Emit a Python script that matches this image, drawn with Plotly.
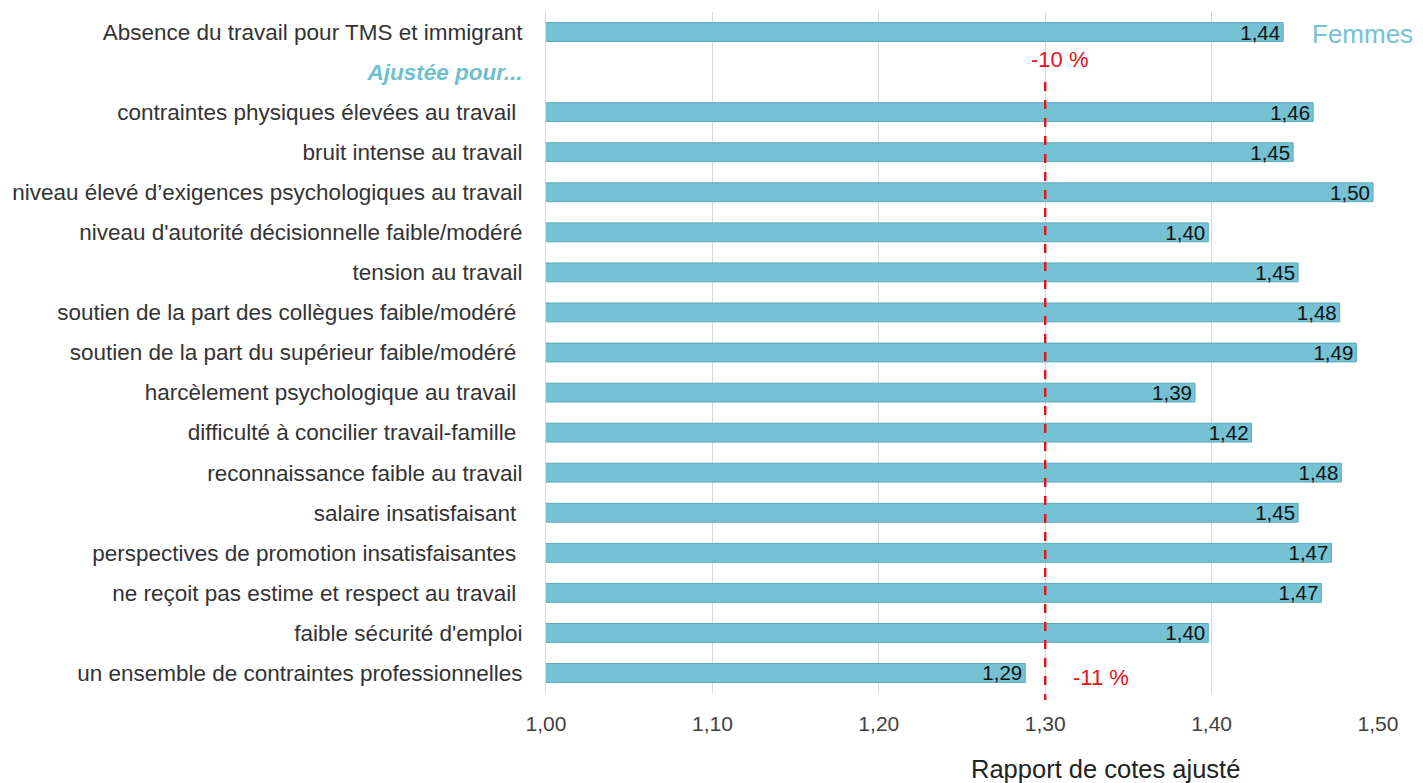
import plotly.graph_objects as go

categories = [
    "Absence du travail pour TMS et immigrant",
    "<i><b><span style='color:#6fbfd1'>Ajustée pour...</span></b></i>",
    "contraintes physiques élevées au travail\u00a0",
    "bruit intense au travail",
    "niveau élevé d’exigences psychologiques au travail",
    "niveau d'autorité décisionnelle faible/modéré",
    "tension au travail",
    "soutien de la part des collègues faible/modéré\u00a0",
    "soutien de la part du supérieur faible/modéré\u00a0",
    "harcèlement psychologique au travail\u00a0",
    "difficulté à concilier travail-famille\u00a0",
    "reconnaissance faible au travail",
    "salaire insatisfaisant\u00a0",
    "perspectives de promotion insatisfaisantes\u00a0",
    "ne reçoit pas estime et respect au travail\u00a0",
    "faible sécurité d'emploi",
    "un ensemble de contraintes professionnelles",
]
values = [1.443, None, 1.461, 1.449, 1.497, 1.398, 1.452, 1.477, 1.487,
          1.390, 1.424, 1.478, 1.452, 1.472, 1.466, 1.398, 1.288]
x_ticks = [1.0, 1.1, 1.2, 1.3, 1.4, 1.5]
ref_line = 1.30

ids = list(range(len(categories)))
FONT = "Liberation Sans, Arial, sans-serif"

# page body has an 8px margin: build the figure smaller and shift targets
OFF = 8
W, H = 1423 - OFF, 783 - OFF
ml, mt = 546 - OFF, 12 - OFF
mr = W - (1378 - OFF)
mb = H - (693 - OFF)
pw, ph = W - ml - mr, H - mt - mb


def px(x):
    return (x - OFF - ml) / pw


def py(y):
    return (H - mb - (y - OFF)) / ph


fig = go.Figure()
fig.add_trace(go.Bar(
    y=ids, x=values, orientation="h",
    marker=dict(color="#74c2d3", line=dict(color="#5aaabb", width=1)),
    width=0.47,
    texttemplate="%{x:.2f}", textposition="inside", insidetextanchor="end",
    textangle=0, constraintext="none",
    textfont=dict(color="#111111", size=20.5, family=FONT),
    hoverinfo="skip",
))

fig.add_shape(type="line", xref="x", yref="paper", x0=ref_line, x1=ref_line,
              y0=py(82), y1=py(700), line=dict(color="#e8101a", width=2.4, dash="dash"))

fig.add_annotation(x=ref_line, xref="x", y=py(60), yref="paper",
                   xanchor="center", yanchor="middle",
                   text="-10 %", showarrow=False, xshift=14,
                   font=dict(color="#e8101a", size=22, family=FONT))
fig.add_annotation(x=ref_line, xref="x", y=py(677), yref="paper",
                   xanchor="center", yanchor="middle",
                   text="-11 %", showarrow=False, xshift=56,
                   font=dict(color="#e8101a", size=22, family=FONT))
fig.add_annotation(x=px(1362), xref="paper", y=py(34), yref="paper",
                   xanchor="center", yanchor="middle",
                   text="Femmes", showarrow=False,
                   font=dict(color="#74c2d3", size=26, family=FONT))
fig.add_annotation(x=px(1105), xref="paper", y=py(769), yref="paper",
                   xanchor="center", yanchor="middle",
                   text="Rapport de cotes ajusté", showarrow=False,
                   font=dict(color="#222222", size=25.5, family=FONT))

fig.update_layout(
    width=W, height=H,
    margin=dict(l=ml, r=mr, t=mt, b=mb, autoexpand=False),
    plot_bgcolor="white", paper_bgcolor="white",
    separators=", ",
    showlegend=False,
    font=dict(family=FONT, color="#333333", size=17),
    xaxis=dict(range=[1.0, 1.5], tickvals=x_ticks, tickformat=".2f",
               showgrid=True, gridcolor="#d9d9d9", gridwidth=1,
               zeroline=False, showline=False, ticks="", automargin=False,
               tickfont=dict(size=21, color="#404040"), ticklabelstandoff=16),
    yaxis=dict(tickvals=ids, ticktext=categories,
               autorange=False, range=[len(categories) - 0.5, -0.5],
               showgrid=False, zeroline=False, showline=True, linecolor="#d9d9d9",
               ticks="", ticklabelstandoff=18, automargin=False,
               tickfont=dict(size=22.5, color="#333333")),
)

fig.write_html("out.html")
